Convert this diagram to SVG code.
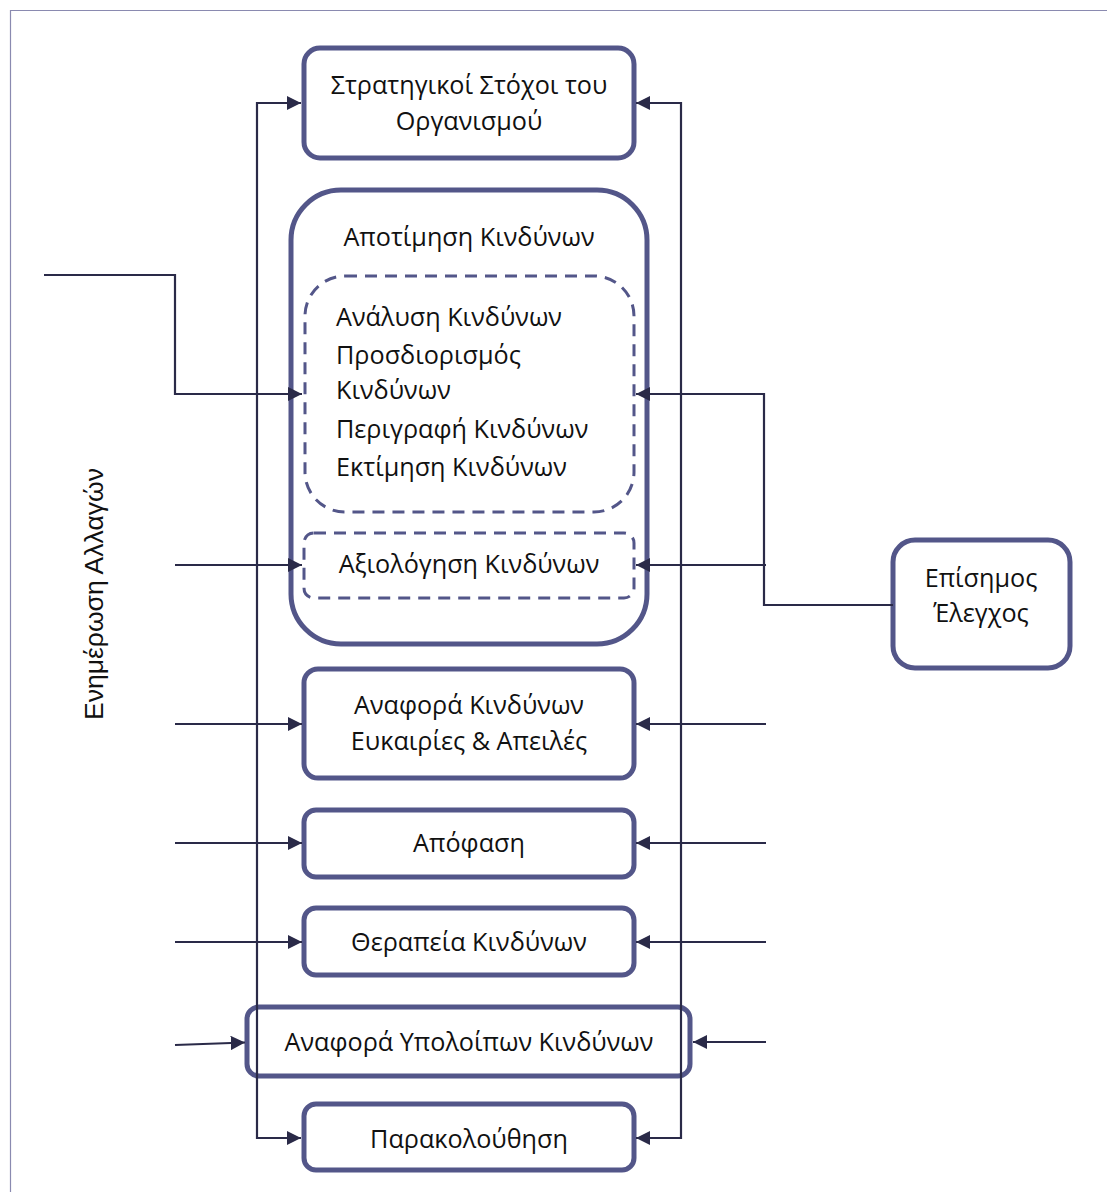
<svg xmlns="http://www.w3.org/2000/svg" width="1107" height="1192" viewBox="0 0 1107 1192">
<style>
.box{fill:#fff;stroke:#535689;stroke-width:5}
.dash{fill:none;stroke:#535689;stroke-width:3;stroke-dasharray:12 8}
.t{font-family:"Open Sans","Noto Sans",sans-serif;font-size:25.2px;fill:#111;text-anchor:middle}
.l{text-anchor:start}
.c{fill:none;stroke:#2a2a48;stroke-width:2.2}
.v{font-family:"Liberation Sans",Arial,sans-serif;font-size:26.5px;fill:#111;text-anchor:middle}
</style>
<defs>
<marker id="a" viewBox="0 0 10 10" refX="10" refY="5" markerWidth="6.5" markerHeight="6.5" markerUnits="strokeWidth" orient="auto">
<path d="M0,0L10,5L0,10z" fill="#2a2a48"/>
</marker>
</defs>
<rect width="1107" height="1192" fill="#fff"/>
<path d="M10.5,1192V10.5H1107" fill="none" stroke="#8a8ab0" stroke-width="1.2"/>
<g id="n-goals"><rect class="box" x="304" y="48" width="330" height="110" rx="16"/><text class="t" x="469" y="94">Στρατηγικοί Στόχοι του</text><text class="t" x="469" y="130">Οργανισμού</text></g>
<g id="n-assess"><rect class="box" x="291" y="190" width="356" height="454" rx="50"/><text class="t" x="469" y="246">Αποτίμηση Κινδύνων</text></g>
<g id="n-analysis"><rect class="dash" x="305" y="276" width="329" height="236" rx="40"/><text class="t l" x="336" y="326">Ανάλυση Κινδύνων</text><text class="t l" x="336" y="364">Προσδιορισμός</text><text class="t l" x="336" y="399">Κινδύνων</text><text class="t l" x="336" y="438">Περιγραφή Κινδύνων</text><text class="t l" x="336" y="476">Εκτίμηση Κινδύνων</text></g>
<g id="n-eval"><rect class="dash" x="304" y="533" width="330" height="65" rx="10"/><text class="t" x="469" y="573">Αξιολόγηση Κινδύνων</text></g>
<g id="n-report"><rect class="box" x="304" y="669" width="330" height="109" rx="14"/><text class="t" x="469" y="714">Αναφορά Κινδύνων</text><text class="t" x="469" y="750">Ευκαιρίες &amp; Απειλές</text></g>
<g id="n-decision"><rect class="box" x="304" y="810" width="330" height="67" rx="12"/><text class="t" x="469" y="852">Απόφαση</text></g>
<g id="n-treat"><rect class="box" x="304" y="908" width="330" height="67" rx="12"/><text class="t" x="469" y="951">Θεραπεία Κινδύνων</text></g>
<g id="n-residual"><rect class="box" x="247" y="1007" width="443" height="69" rx="12"/><text class="t" x="469" y="1051">Αναφορά Υπολοίπων Κινδύνων</text></g>
<g id="n-monitor"><rect class="box" x="304" y="1104" width="330" height="66" rx="12"/><text class="t" x="469" y="1148">Παρακολούθηση</text></g>
<g id="n-audit"><rect class="box" x="893" y="540" width="177" height="128" rx="22"/><text class="t" x="981" y="587">Επίσημος</text><text class="t" x="981" y="622">Έλεγχος</text></g>
<g id="n-changes"><text class="v" transform="translate(103,594) rotate(-90)">Ενημέρωση Αλλαγών</text></g>
<g id="connectors">
<path class="c" d="M301,103H257V1138H301" marker-end="url(#a)"/>
<path class="c" d="M257,103H301" marker-end="url(#a)"/>
<path class="c" d="M636,103H681V1138H636" marker-end="url(#a)"/>
<path class="c" d="M681,103H636" marker-end="url(#a)"/>
<path class="c" d="M44,275H175V394H302" marker-end="url(#a)"/>
<path class="c" d="M175,565H302" marker-end="url(#a)"/>
<path class="c" d="M175,724H302" marker-end="url(#a)"/>
<path class="c" d="M175,843H302" marker-end="url(#a)"/>
<path class="c" d="M175,942H302" marker-end="url(#a)"/>
<path class="c" d="M175,1045L245,1042.5" marker-end="url(#a)"/>
<path class="c" d="M893,605H764V394H636" marker-end="url(#a)"/>
<path class="c" d="M766,565H636" marker-end="url(#a)"/>
<path class="c" d="M766,724H636" marker-end="url(#a)"/>
<path class="c" d="M766,843H636" marker-end="url(#a)"/>
<path class="c" d="M766,942H636" marker-end="url(#a)"/>
<path class="c" d="M766,1042H693" marker-end="url(#a)"/>
</g>
</svg>
